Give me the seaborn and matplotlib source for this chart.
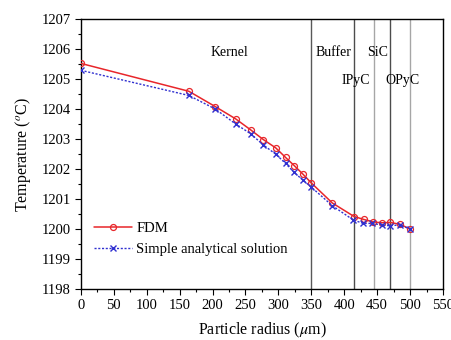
import matplotlib
matplotlib.use("Agg")
import matplotlib.pyplot as plt
import pandas as pd
import seaborn as sns
from matplotlib.ticker import MultipleLocator

# ── Data ─────────────────────────────────────────────────────────────────────
fdm_r = [0, 164, 204, 235, 258, 277, 296, 311, 324, 337, 350, 382, 415, 430, 444, 457, 470, 485, 500]
fdm_t = [1205.53, 1204.60, 1204.09, 1203.68, 1203.31, 1202.99, 1202.71, 1202.39, 1202.12,
         1201.84, 1201.54, 1200.87, 1200.42, 1200.32, 1200.24, 1200.21, 1200.22, 1200.16, 1200.00]
ana_r = [0, 164, 204, 235, 258, 277, 296, 311, 324, 337, 350, 382, 414, 429, 442, 457, 469, 485, 500]
ana_t = [1205.30, 1204.46, 1204.01, 1203.51, 1203.18, 1202.81, 1202.50, 1202.19, 1201.89,
         1201.64, 1201.40, 1200.78, 1200.30, 1200.19, 1200.19, 1200.14, 1200.11, 1200.14, 1200.00]

boundaries = [350, 415, 445, 470, 500]
boundary_alpha = [0.65, 0.7, 0.35, 0.7, 0.35]
layer_labels = ["Kernel", "Buffer", "SiC", "IPyC", "OPyC"]
label_pos = [(226, 1205.9), (383, 1205.9), (451, 1205.9), (418, 1204.95), (488, 1204.95)]

df = pd.concat([
    pd.DataFrame({"r": fdm_r, "T": fdm_t, "series": "FDM"}),
    pd.DataFrame({"r": ana_r, "T": ana_t, "series": "Simple analytical solution"}),
])

sns.set_style("ticks", {"axes.edgecolor": "black", "text.color": "black",
                        "xtick.color": "black", "ytick.color": "black",
                        "axes.labelcolor": "black"})
plt.rcParams["font.family"] = ["Liberation Serif", "DejaVu Serif"]
plt.rcParams["mathtext.fontset"] = "stix"

fig = plt.figure(figsize=(4.52, 3.40), dpi=100)
ax = fig.add_axes([0.179, 0.150, 0.801, 0.793])

for x, a in zip(boundaries, boundary_alpha):
    ax.axvline(x, color="black", alpha=a, linewidth=1.0, zorder=1)

styles = {
    "FDM": dict(color="#e8262a", linestyle="-", marker="o", markersize=4.3,
                markerfacecolor="none", markeredgecolor="#e8262a",
                markeredgewidth=0.9, linewidth=1.1),
    "Simple analytical solution": dict(color="#3030d0", linestyle=(0, (1.5, 1.2)), marker="x",
                                       markersize=4.2, markeredgecolor="#3030d0",
                                       markeredgewidth=1.0, linewidth=1.0),
}
palette = {k: v["color"] for k, v in styles.items()}
sns.lineplot(data=df, x="r", y="T", hue="series", palette=palette, ax=ax,
             estimator=None, sort=False, zorder=3)

# apply line / marker styles to the seaborn-drawn lines and legend handles
handles, labels = ax.get_legend_handles_labels()
for line in ax.lines[len(boundaries):]:
    for name, st in styles.items():
        if line.get_label() == name or line.get_color() == st["color"]:
            line.set(**st)
for h, lab in zip(handles, labels):
    h.set(**styles[lab])

for text, (x, y) in zip(layer_labels, label_pos):
    ax.text(x, y, text, ha="center", va="center", fontsize=10)

ax.set_xlim(0, 550)
ax.set_ylim(1198, 1207)
ax.xaxis.set_major_locator(MultipleLocator(50))
ax.xaxis.set_minor_locator(MultipleLocator(25))
ax.yaxis.set_major_locator(MultipleLocator(1))
ax.yaxis.set_minor_locator(MultipleLocator(0.5))
ax.tick_params(which="major", length=4, width=0.8, labelsize=10.5, direction="out")
ax.tick_params(which="minor", length=2.5, width=0.8, direction="out")
for s in ax.spines.values():
    s.set_linewidth(1.0)

ax.set_xlabel("Particle radius ($\\mu$m)", fontsize=11.5, labelpad=6)
ax.set_ylabel("Temperature ($^o$C)", fontsize=11.5, labelpad=6)

ax.legend(handles, labels, loc="upper left", bbox_to_anchor=(0.02, 0.27), frameon=False,
          fontsize=10.5, handlelength=2.6, handletextpad=0.3, labelspacing=0.5,
          borderaxespad=0)

fig.savefig("out.png", dpi=100)
